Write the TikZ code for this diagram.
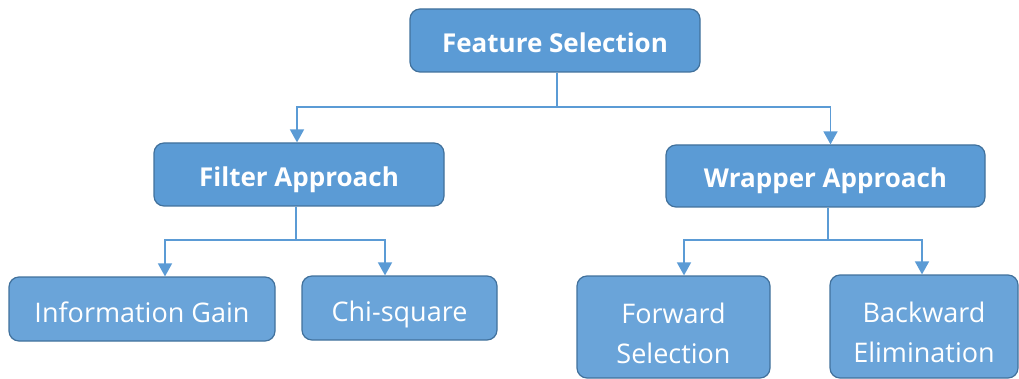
\documentclass[tikz,border=0pt]{standalone}
\usepackage{fontspec}
\setmainfont{Open Sans}
\usetikzlibrary{arrows.meta}
\definecolor{boxfill}{HTML}{5B9BD5}
\definecolor{boxfillb}{HTML}{6AA4D9}
\definecolor{boxline}{HTML}{41719C}
\definecolor{conn}{HTML}{5B9BD5}
\tikzset{
  box/.style={draw=boxline, line width=1.2pt, rounded corners=10pt, text=white, align=center, inner sep=0pt, text depth=0pt},
  topbox/.style={box, fill=boxfill, font=\fontsize{26}{30}\selectfont\bfseries, text height=23.6pt},
  leafbox/.style={box, fill=boxfillb, font=\fontsize{27}{40}\selectfont, text height=26.3pt},
  conn/.style={draw=conn, line width=1.6pt, -{Triangle[width=14pt,length=13pt]}},
}
\begin{document}
\begin{tikzpicture}[x=1pt,y=-1pt]
\useasboundingbox (0,0) rectangle (1019,379);
\node[topbox, minimum width=290pt, minimum height=63pt] (fs) at (555,40.5) {Feature Selection};
\node[topbox, minimum width=290pt, minimum height=63pt] (fa) at (299,174.5) {Filter Approach};
\node[topbox, minimum width=319pt, minimum height=62pt] (wa) at (825.5,176) {Wrapper Approach};
\node[leafbox, minimum width=266pt, minimum height=64pt] (ig) at (142,309) {Information Gain};
\node[leafbox, minimum width=195pt, minimum height=64pt] (cs) at (399.5,308) {Chi-square};
\node[leafbox, minimum width=193pt, minimum height=102pt, text height=73.3pt] (fw) at (673.5,327) {Forward\\Selection};
\node[leafbox, minimum width=188pt, minimum height=103pt, text height=71.3pt] (bw) at (924,326.5) {Backward\\Elimination};
\coordinate (j1) at (557,107);
\coordinate (j2) at (296,240);
\coordinate (j3) at (828,240);
\draw[conn] (fs.south -| j1) -- (j1) -| (297,140) -- ([xshift=-2pt]fa.north);
\draw[conn] (j1) -| ([xshift=5pt]wa.north);
\draw[conn] (fa.south -| j2) -- (j2) -| (ig.north -| 165,0);
\draw[conn] (j2) -| (cs.north -| 385,0);
\draw[conn] (wa.south -| j3) -- (j3) -| (fw.north -| 684,0);
\draw[conn] (j3) -| (bw.north -| 922,0);
\end{tikzpicture}
\end{document}
